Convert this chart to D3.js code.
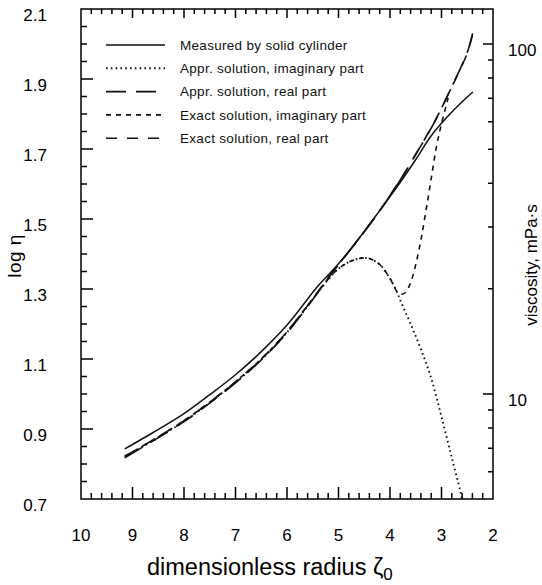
<!DOCTYPE html>
<html>
<head>
<meta charset="utf-8">
<script src="https://cdn.jsdelivr.net/npm/d3@7"></script>
<style>
  body { margin: 0; background: #fff; }
  svg { font-family: "Liberation Sans", Arial, Helvetica, sans-serif; }
</style>
</head>
<body>
<svg id="chart" width="542" height="585"></svg>
<script>
// values (x = dimensionless radius, y = log eta)
const zetaMeasured = [9.15, 8.6, 8.0, 7.5, 7.0, 6.5, 6.0, 5.7, 5.42, 5.2, 5.0, 4.6, 4.2, 3.8, 3.5, 3.2, 2.9, 2.6, 2.39];
const logMeasured  = [0.843, 0.89, 0.944, 0.998, 1.055, 1.121, 1.197, 1.252, 1.305, 1.34, 1.372, 1.445, 1.524, 1.605, 1.67, 1.738, 1.79, 1.835, 1.863];

const zetaReal     = [9.15, 8.6, 8.0, 7.5, 7.0, 6.5, 6.0, 5.5, 5.2, 5.0, 4.6, 4.2, 3.9, 3.7, 3.5, 3.3, 3.1, 2.9, 2.7, 2.5, 2.39];
const logExactReal = [0.822, 0.869, 0.924, 0.977, 1.035, 1.10, 1.178, 1.272, 1.333, 1.37, 1.445, 1.524, 1.59, 1.635, 1.685, 1.735, 1.788, 1.847, 1.908, 1.974, 2.031];
const logApprReal  = [0.818, 0.866, 0.921, 0.974, 1.032, 1.097, 1.175, 1.27, 1.331, 1.369, 1.444, 1.523, 1.589, 1.635, 1.685, 1.734, 1.787, 1.847, 1.909, 1.976, 2.034];

const zetaExactImag = [9.15, 8.6, 8.0, 7.5, 7.0, 6.5, 6.0, 5.5, 5.2, 5.0, 4.8, 4.6, 4.5, 4.4, 4.2, 4.0, 3.86, 3.78, 3.7, 3.6, 3.5, 3.4, 3.3, 3.2, 3.1, 3.0, 2.87];
const logExactImag  = [0.822, 0.869, 0.924, 0.977, 1.035, 1.10, 1.178, 1.272, 1.328, 1.358, 1.377, 1.387, 1.389, 1.387, 1.37, 1.33, 1.292, 1.285, 1.29, 1.318, 1.37, 1.44, 1.525, 1.615, 1.705, 1.772, 1.846];

const zetaApprImag = [9.15, 8.6, 8.0, 7.5, 7.0, 6.5, 6.0, 5.5, 5.2, 5.0, 4.8, 4.6, 4.5, 4.4, 4.2, 4.0, 3.86, 3.8, 3.6, 3.4, 3.2, 3.0, 2.8, 2.64, 2.6];
const logApprImag  = [0.82, 0.867, 0.922, 0.975, 1.033, 1.098, 1.176, 1.271, 1.327, 1.358, 1.377, 1.387, 1.389, 1.387, 1.37, 1.33, 1.29, 1.268, 1.2, 1.128, 1.045, 0.935, 0.818, 0.726, 0.70];

const xTickValues = [10, 9, 8, 7, 6, 5, 4, 3, 2];
const yTickValues = [0.7, 0.9, 1.1, 1.3, 1.5, 1.7, 1.9, 2.1];
const yTickLabels = ["0.7", "0.9", "1.1", "1.3", "1.5", "1.7", "1.9", "2.1"];
const viscTickValues = [10, 100];

const legendLabels = [
  "Measured by solid cylinder",
  "Appr. solution, imaginary part",
  "Appr. solution, real part",
  "Exact solution, imaginary part",
  "Exact solution, real part"
];

const svg = d3.select("#chart");

// plot frame
const frameL = 81, frameR = 493, frameT = 9, frameB = 499;

const x = d3.scaleLinear().domain([10, 2]).range([frameL, frameR]);
const y = d3.scaleLinear().domain([0.7, 2.1]).range([frameB, frameT]);
const yVisc = d3.scaleLog().domain([Math.pow(10, 0.7), Math.pow(10, 2.1)]).range([frameB, frameT]);

// minor tick positions come from the scales themselves
const xMinor = x.ticks(40);
const yMinor = y.ticks(28);
const viscMinor = yVisc.ticks().filter(v => v <= 100);

// ---- tick labels ----
svg.append("g").selectAll("text")
  .data(xTickValues)
  .join("text")
  .attr("x", d => x(d)).attr("y", 541)
  .attr("text-anchor", "middle")
  .style("font-size", "17px")
  .text(d => d);

svg.append("g").selectAll("text")
  .data(yTickValues)
  .join("text")
  .attr("x", 47).attr("y", d => y(d) + 6)
  .attr("dy", "0.35em")
  .attr("text-anchor", "end")
  .style("font-size", "17px")
  .text((d, i) => yTickLabels[i]);

svg.append("g").selectAll("text")
  .data(viscTickValues)
  .join("text")
  .attr("x", 508).attr("y", d => yVisc(d) + 6)
  .attr("dy", "0.35em")
  .style("font-size", "17px")
  .text(d => d);

// ---- axis titles ----
svg.append("text")
  .attr("transform", "translate(21,256) rotate(-90)")
  .attr("text-anchor", "middle")
  .style("font-size", "19px").style("letter-spacing", "0.5px")
  .text("log η");

svg.append("text")
  .attr("transform", "translate(537,265) rotate(-90)")
  .attr("text-anchor", "middle")
  .style("font-size", "17px")
  .text("viscosity, mPa·s");

const xt = svg.append("text")
  .attr("x", 147).attr("y", 575)
  .style("font-size", "23.5px");
xt.append("tspan").text("dimensionless radius ζ");
xt.append("tspan").attr("dy", 5).style("font-size", "17px").text("0");

// ---- curves ----
const line = d3.line()
  .x(d => x(d[0]))
  .y(d => y(d[1]))
  .curve(d3.curveCatmullRom.alpha(0.5));

const series = [
  {z: zetaMeasured,  v: logMeasured,  dash: null,      w: 1.5},
  {z: zetaApprImag,  v: logApprImag,  dash: "1.6,3.2", w: 1.9},
  {z: zetaReal,      v: logApprReal,  dash: "20,10",   w: 1.6},
  {z: zetaExactImag, v: logExactImag, dash: "5,5",     w: 1.6},
  {z: zetaReal,      v: logExactReal, dash: "11,10",   w: 1.6}
];

series.forEach(s => {
  svg.append("path")
    .datum(s.z.map((z, i) => [z, s.v[i]]))
    .attr("d", line)
    .attr("fill", "none")
    .attr("stroke", "#111")
    .attr("stroke-width", s.w)
    .attr("stroke-dasharray", s.dash);
});

// ---- legend ----
const legend = svg.append("g").attr("transform", "translate(106,45)");
series.forEach((s, i) => {
  const row = legend.append("g").attr("transform", `translate(0,${i * 23.3})`);
  row.append("line")
    .attr("x1", 0).attr("x2", 59)
    .attr("stroke", "#111")
    .attr("stroke-width", s.w)
    .attr("stroke-dasharray", s.dash);
  row.append("text")
    .attr("x", 74).attr("dy", "0.35em")
    .style("font-size", "13.5px").style("letter-spacing", "0.3px")
    .attr("fill", "#111")
    .text(legendLabels[i]);
});

// ---- frame + inward ticks, built into one path ----
const fp = d3.path();
fp.rect(frameL, frameT, frameR - frameL, frameB - frameT);

function hTicks(vals, yPos, len) {
  vals.forEach(v => { fp.moveTo(x(v), yPos); fp.lineTo(x(v), yPos + len); });
}
function vTicks(vals, scale, xPos, len) {
  vals.forEach(v => { fp.moveTo(xPos, scale(v)); fp.lineTo(xPos + len, scale(v)); });
}
hTicks(xMinor, frameB, -6);
hTicks(xTickValues, frameB, -12);
hTicks(xMinor, frameT, 5);
hTicks(xTickValues, frameT, 9);
vTicks(yMinor, y, frameL, 6);
vTicks(yTickValues, y, frameL, 12);
vTicks(viscMinor, yVisc, frameR, -5);
vTicks(viscTickValues, yVisc, frameR, -10);

svg.append("path")
  .attr("d", fp.toString())
  .attr("fill", "none")
  .attr("stroke", "#000")
  .attr("stroke-width", 1.5);
</script>
</body>
</html>
